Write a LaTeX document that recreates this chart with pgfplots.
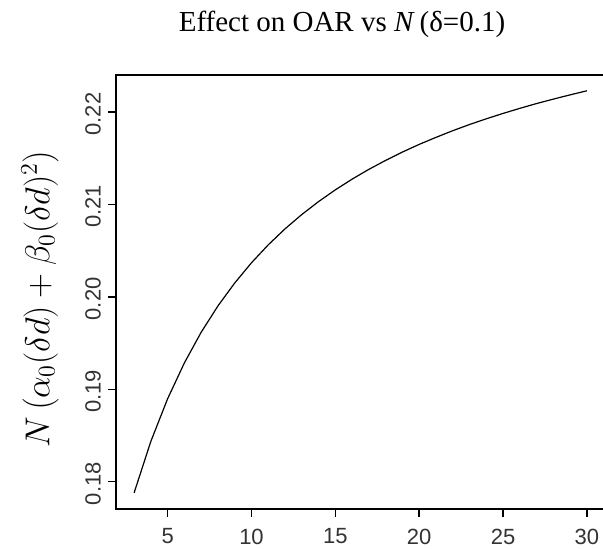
\documentclass[border=0pt]{standalone}
\usepackage{fontspec}
\setmainfont{Liberation Serif}
\newfontfamily\arial{Liberation Sans}
\usepackage{pgfplots}
\pgfplotsset{compat=1.18}

\begin{document}
\begin{tikzpicture}
% crop to the reference frame (its right border falls just outside)
\useasboundingbox (-58pt,-20pt) rectangle (243.5pt,254.5pt);
\begin{axis}[
    at={(0pt,0pt)}, anchor=south west,
    scale only axis,
    width=244.5pt, height=217pt,
    xmin=1.92, xmax=31.08,
    ymin=0.17704, ymax=0.22401,
    xtick={5,10,15,20,25,30},
    ytick={0.18,0.19,0.20,0.21,0.22},
    yticklabels={0.18,0.19,0.20,0.21,0.22},
    xtick pos=bottom, ytick pos=left,
    tick align=outside,
    major tick length=4pt,
    axis line style={line width=0.7pt},
    every tick/.style={black, line width=0.7pt},
    ticklabel style={font=\arial\fontsize{11}{13}\selectfont, text=black!80},
    /pgf/number format/assume math mode=true,
    xticklabel style={yshift=-2.3pt},
    yticklabel style={rotate=90, anchor=south, xshift=-1pt},
]
\addplot[black, line width=0.6pt] coordinates {
    (3,0.17879) (4,0.18437) (5,0.18898) (6,0.19286) (7,0.19617)
    (8,0.19902) (9,0.20150) (10,0.20369) (11,0.20563) (12,0.20736)
    (13,0.20891) (14,0.21031) (15,0.21158) (16,0.21274) (17,0.21380)
    (18,0.21477) (19,0.21567) (20,0.21650) (21,0.21726) (22,0.21798)
    (23,0.21865) (24,0.21927) (25,0.21985) (26,0.22040) (27,0.22092)
    (28,0.22140) (29,0.22186) (30,0.22230)
};
\end{axis}
\node[anchor=base, font=\fontsize{14.5}{17}\selectfont] at (113pt,238.5pt)
    {Effect on OAR vs \textit{N}\,(δ=0.1)};
\node[rotate=90, font=\fontsize{16.5}{19}\selectfont] at (-38pt,105pt)
    {$N\left(\alpha_0(\delta d)+\beta_0(\delta d)^2\right)$};
\end{tikzpicture}
\end{document}
